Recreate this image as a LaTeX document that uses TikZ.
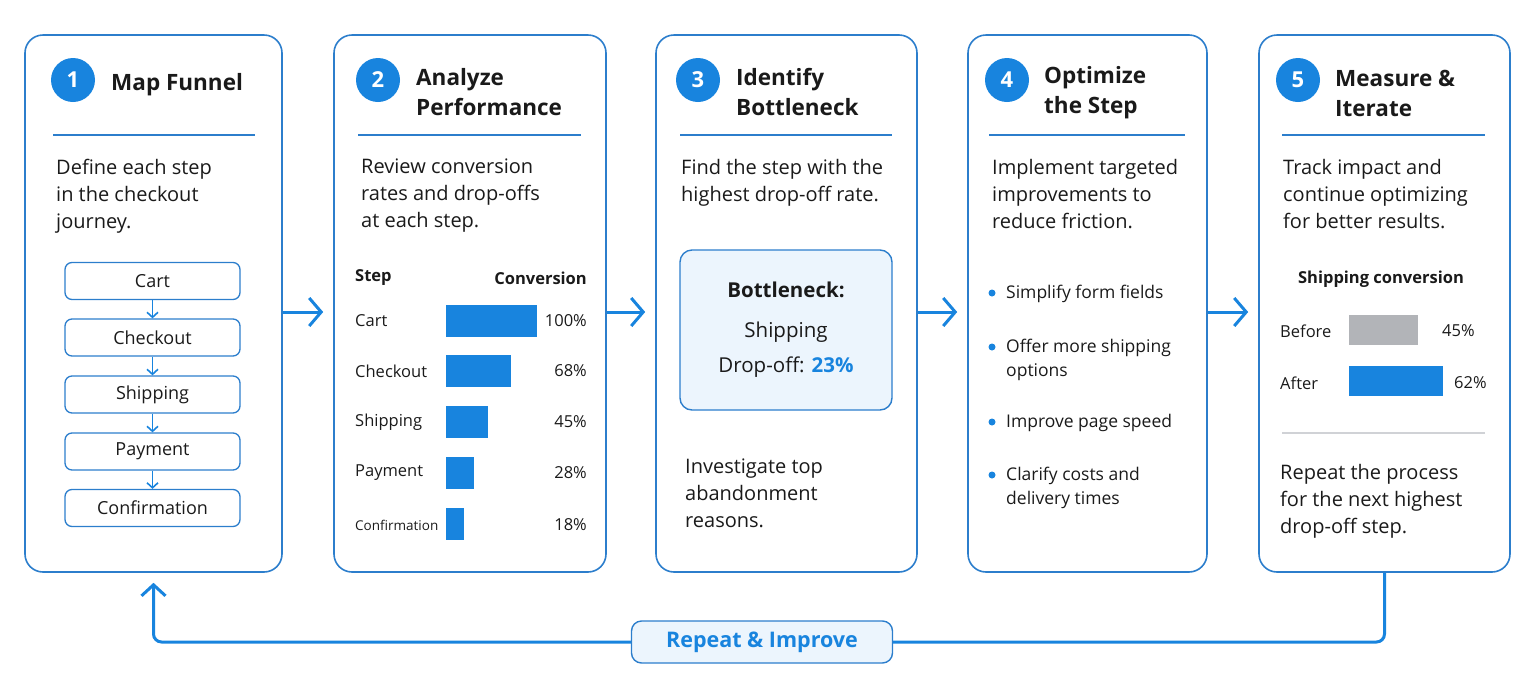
\documentclass[tikz,border=0pt]{standalone}
\usepackage{fontspec}
\setmainfont{Open Sans}
\usetikzlibrary{arrows.meta,positioning,calc}

\definecolor{flowblue}{RGB}{24,132,222}
\definecolor{edgeblue}{RGB}{44,126,204}
\definecolor{paleblue}{RGB}{236,245,253}
\definecolor{inkgray}{RGB}{26,26,26}
\definecolor{bargray}{RGB}{178,180,184}
\definecolor{rulegray}{RGB}{208,210,214}

\tikzset{
  panel/.style={draw=edgeblue, line width=1.6pt, rounded corners=18pt,
    minimum width=#1, minimum height=537pt, inner sep=0pt},
  stepnum/.style={circle, fill=flowblue, text=white, minimum size=44pt,
    inner sep=0pt, font=\fontsize{22}{22}\selectfont\bfseries},
  heading/.style={anchor=west, align=left, inner sep=0pt, text=inkgray,
    font=\fontsize{22.5}{30}\selectfont\bfseries},
  body/.style={anchor=north west, align=left, inner sep=0pt, text=inkgray,
    font=\fontsize{20}{27}\selectfont},
  small/.style={anchor=north west, align=left, inner sep=0pt, text=inkgray,
    font=\fontsize{17.5}{24}\selectfont},
  label/.style={inner sep=0pt, text=inkgray, font=\fontsize{16.5}{18}\selectfont},
  divider/.style={draw=edgeblue, line width=1.4pt},
  funnelbox/.style={draw=edgeblue, line width=1.3pt, rounded corners=7pt,
    minimum width=175pt, minimum height=37pt, inner sep=0pt, text=inkgray,
    font=\fontsize{18}{18}\selectfont},
  funnelarrow/.style={draw=flowblue, line width=1.6pt,
    -{Straight Barb[length=5pt,width=11pt]}},
  flow/.style={draw=flowblue, line width=3pt,
    -{Straight Barb[length=12pt,width=28pt]}, shorten >=10pt},
  loopline/.style={draw=flowblue, line width=3pt, rounded corners=8pt},
  bar/.style={inner sep=0pt, minimum height=32pt, anchor=west},
  dot/.style={circle, fill=flowblue, inner sep=0pt, minimum size=7pt}
}

\begin{document}
\begin{tikzpicture}[x=1pt, y=-1pt]
\useasboundingbox (0,0) rectangle (1535,697);

% panels
\node[panel=257pt] (p1) at (153.5,303.5) {};
\node[panel=272pt] (p2) at (470,303.5) {};
\node[panel=261pt] (p3) at (786.5,303.5) {};
\node[panel=239pt] (p4) at (1087.5,303.5) {};
\node[panel=251pt] (p5) at (1384.5,303.5) {};

% headers
\node[stepnum] (n1) at (73,80) {1};
\node[heading] (t1) at (111,85) {Map Funnel};
\node[stepnum] (n2) at (378,80) {2};
\node[heading] (t2) at (416,92) {Analyze\\Performance};
\node[stepnum] (n3) at (698,80) {3};
\node[heading] (t3) at (736,92) {Identify\\Bottleneck};
\node[stepnum] (n4) at (1007,80) {4};
\node[heading] (t4) at (1044,93) {Optimize\\the Step};
\node[stepnum] (n5) at (1298,80) {5};
\node[heading] (t5) at (1335,93) {Measure \&\\Iterate};

\draw[divider] (53,135) -- (255,135);
\draw[divider] (358,135) -- (581,135);
\draw[divider] (680,135) -- (892,135);
\draw[divider] (989,135) -- (1185,135);
\draw[divider] (1282,135) -- (1485,135);

% descriptions
\node[body] (d1) at (56,159) {Define each step\\in the checkout\\journey.};
\node[body] (d2) at (361,159) {Review conversion\\rates and drop-offs\\at each step.};
\node[body] (d3) at (681,159) {Find the step with the\\highest drop-off rate.};
\node[body] (d4) at (992,159) {Implement targeted\\improvements to\\reduce friction.};
\node[body] (d5) at (1283,159) {Track impact and\\continue optimizing\\for better results.};

% panel 1: funnel steps
\node[funnelbox] (fcart) at (152.5,281) {Cart};
\node[funnelbox] (fcheck) at (152.5,337.5) {Checkout};
\node[funnelbox] (fship) at (152.5,394.5) {Shipping};
\node[funnelbox] (fpay) at (152.5,451.5) {Payment};
\node[funnelbox] (fconf) at (152.5,508) {Confirmation};
\foreach \a/\b in {fcart/fcheck,fcheck/fship,fship/fpay,fpay/fconf}
  \draw[funnelarrow] (\a) -- (\b);

% panel 2: conversion table
\node[label, anchor=west, font=\fontsize{16.5}{18}\selectfont\bfseries] (hstep) at (355,278) {Step};
\node[label, anchor=east, font=\fontsize{16.5}{18}\selectfont\bfseries] (hconv) at (587,278) {Conversion};
\foreach \name/\y/\w/\pct in {Cart/321/91/100,Checkout/371/65/68,Shipping/422/42/45,Payment/473/28/28}{
  \node[label, anchor=west] (r\name) at (355,\y) {\name};
  \node[bar, fill=flowblue, minimum width=\w pt] (b\name) at (446,\y) {};
  \node[label, anchor=east] (v\name) at (587,\y) {\pct\%};
}
\node[label, anchor=west, font=\fontsize{13.5}{16}\selectfont] (rConfirmation) at (355,525) {Confirmation};
\node[bar, fill=flowblue, minimum width=18pt] (bConfirmation) at (446,524) {};
\node[label, anchor=east] (vConfirmation) at (587,525) {18\%};

% panel 3: bottleneck
\node[draw=edgeblue, line width=1.4pt, fill=paleblue, rounded corners=12pt,
  minimum width=212pt, minimum height=160pt, align=center, text=inkgray,
  font=\fontsize{20.5}{35}\selectfont] (neck) at (786,330)
  {\textbf{Bottleneck:}\\[5pt]Shipping\\Drop-off: \textcolor{flowblue}{\textbf{23\%}}};
\node[body] (d3b) at (685,459) {Investigate top\\abandonment\\reasons.};

% panel 4: improvements
\foreach \y in {293,347,422,475}
  \node[dot] at (992,\y) {};
\node[small] (i1) at (1006,285) {Simplify form fields};
\node[small] (i2) at (1006,339) {Offer more shipping\\options};
\node[small] (i3) at (1006,414) {Improve page speed};
\node[small] (i4) at (1006,467) {Clarify costs and\\delivery times};

% panel 5: before / after
\node[label, font=\fontsize{16.5}{18}\selectfont\bfseries] (hship) at (1381,279) {Shipping conversion};
\node[label, anchor=west] (lbefore) at (1280,331) {Before};
\node[bar, fill=bargray, minimum width=69pt, minimum height=30pt] (bbefore) at (1349,330) {};
\node[label, anchor=west] (vbefore) at (1442,331) {45\%};
\node[label, anchor=west] (lafter) at (1280,383) {After};
\node[bar, fill=flowblue, minimum width=94pt, minimum height=30pt] (bafter) at (1349,381) {};
\node[label, anchor=west] (vafter) at (1454,383) {62\%};
\draw[draw=rulegray, line width=1.4pt] (1282,433) -- (1485,433);
\node[body] (d5b) at (1280,464) {Repeat the process\\for the next highest\\drop-off step.};

% flow between panels
\foreach \a/\b in {p1/p2,p2/p3,p3/p4,p4/p5}
  \draw[flow] ([yshift=-8.5pt]\a.east) -- ([yshift=-8.5pt]\b.west);

% repeat loop
\node[draw=edgeblue, line width=1.4pt, fill=paleblue, rounded corners=10pt,
  minimum width=261pt, minimum height=42pt, text=flowblue,
  font=\fontsize{21.5}{21}\selectfont\bfseries] (rep) at (762,642) {Repeat \& Improve};
\draw[loopline] (p5.south) |- (rep.east);
\draw[loopline, -{Straight Barb[length=11pt,width=24pt]}, shorten >=10pt]
  (rep.west) -| (p1.south);
\end{tikzpicture}
\end{document}
